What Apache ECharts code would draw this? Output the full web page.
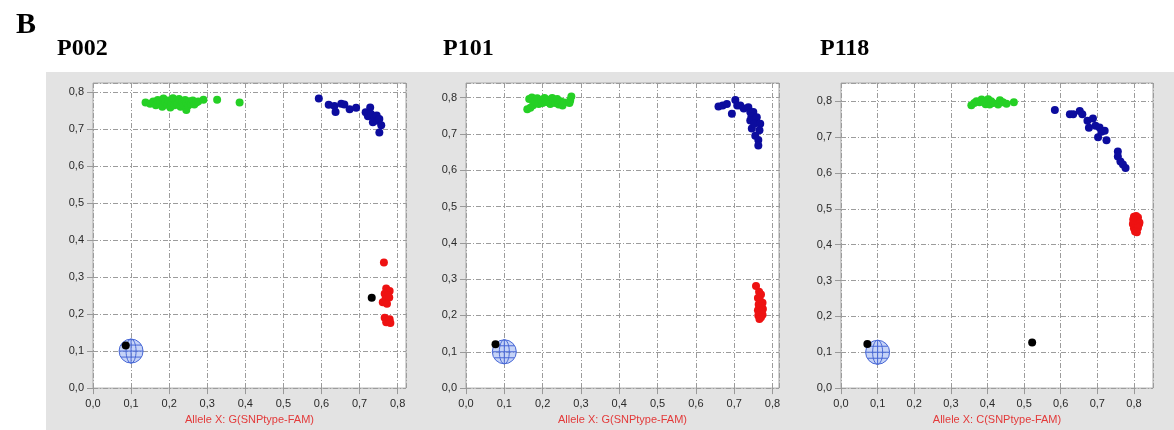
<!DOCTYPE html>
<html>
<head>
<meta charset="utf-8">
<script src="https://cdn.jsdelivr.net/npm/echarts@6/dist/echarts.min.js"></script>
<style>
  html, body { margin: 0; padding: 0; background: #fff; }
  #main { width: 1174px; height: 430px; }
</style>
</head>
<body>
<div id="main"></div>
<script>
// panel titles and axis names
var panelTitles = ['P002', 'P101', 'P118'];
var axisNames = ['Allele X: G(SNPtype-FAM)', 'Allele X: G(SNPtype-FAM)', 'Allele X: C(SNPtype-FAM)'];
var tickValues = [0, 0.1, 0.2, 0.3, 0.4, 0.5, 0.6, 0.7, 0.8];
var globeCenter = [0.1, 0.1];

// P002
var p1Green = [
  [0.138,0.771],[0.150,0.768],[0.158,0.774],[0.165,0.764],[0.170,0.778],[0.176,0.770],[0.182,0.760],
  [0.185,0.782],[0.190,0.772],[0.195,0.765],[0.198,0.777],[0.203,0.758],[0.206,0.770],[0.210,0.783],
  [0.214,0.764],[0.218,0.775],[0.222,0.768],[0.226,0.781],[0.230,0.760],[0.234,0.773],[0.238,0.766],
  [0.242,0.778],[0.246,0.770],[0.245,0.751],[0.250,0.763],[0.254,0.775],[0.258,0.768],[0.262,0.777],
  [0.266,0.766],[0.271,0.771],[0.276,0.774],[0.290,0.779],[0.326,0.779],[0.385,0.771]
];
var p1Blue = [
  [0.593,0.782],[0.619,0.765],[0.634,0.762],[0.637,0.746],[0.652,0.768],[0.660,0.766],[0.674,0.753],
  [0.691,0.757],[0.716,0.745],[0.722,0.734],[0.728,0.758],[0.730,0.740],[0.735,0.718],[0.740,0.730],
  [0.745,0.736],[0.748,0.722],[0.752,0.727],[0.757,0.710],[0.752,0.690]
];
var p1Red = [
  [0.764,0.339],[0.770,0.269],[0.779,0.262],[0.766,0.255],[0.775,0.250],[0.761,0.232],[0.768,0.240],
  [0.778,0.245],[0.772,0.228],[0.766,0.190],[0.775,0.183],[0.770,0.178],[0.779,0.186],[0.781,0.176]
];
var p1Black = [[0.732,0.244],[0.086,0.115]];

// P101
var p2Green = [
  [0.160,0.768],[0.168,0.772],[0.175,0.779],[0.165,0.796],[0.172,0.800],[0.180,0.790],[0.186,0.798],
  [0.190,0.782],[0.196,0.793],[0.200,0.785],[0.205,0.799],[0.210,0.788],[0.215,0.794],[0.220,0.782],
  [0.225,0.799],[0.228,0.790],[0.233,0.785],[0.238,0.796],[0.242,0.781],[0.247,0.790],[0.252,0.778],
  [0.256,0.786],[0.270,0.785],[0.272,0.792],[0.275,0.803]
];
var p2Blue = [
  [0.659,0.775],[0.670,0.778],[0.681,0.782],[0.694,0.755],[0.703,0.793],[0.708,0.778],[0.716,0.778],
  [0.725,0.770],[0.737,0.773],[0.742,0.760],[0.750,0.760],[0.745,0.748],[0.742,0.737],[0.759,0.746],
  [0.746,0.715],[0.752,0.728],[0.768,0.728],[0.766,0.710],[0.755,0.695],[0.763,0.683],[0.763,0.668]
];
var p2Red = [
  [0.757,0.281],[0.765,0.265],[0.770,0.258],[0.762,0.248],[0.768,0.240],[0.774,0.235],[0.764,0.230],
  [0.771,0.226],[0.766,0.220],[0.775,0.218],[0.762,0.214],[0.772,0.214],[0.770,0.210],[0.767,0.205],
  [0.774,0.202],[0.763,0.200],[0.770,0.195],[0.766,0.190]
];
var p2Black = [[0.077,0.121]];

// P118
var p3Green = [
  [0.356,0.789],[0.364,0.795],[0.370,0.800],[0.378,0.797],[0.384,0.805],[0.390,0.798],[0.395,0.792],
  [0.402,0.806],[0.406,0.791],[0.410,0.800],[0.415,0.795],[0.429,0.791],[0.434,0.803],[0.442,0.797],
  [0.452,0.793],[0.472,0.797]
];
var p3Blue = [
  [0.584,0.776],[0.625,0.764],[0.634,0.764],[0.652,0.773],[0.659,0.764],[0.673,0.746],[0.677,0.726],
  [0.688,0.752],[0.695,0.732],[0.706,0.727],[0.702,0.700],[0.711,0.715],[0.720,0.718],[0.725,0.691],
  [0.756,0.660],[0.756,0.646],[0.763,0.632],[0.770,0.624],[0.777,0.614]
];
var p3Red = [
  [0.800,0.478],[0.806,0.480],[0.811,0.476],[0.798,0.470],[0.804,0.468],[0.810,0.466],[0.815,0.462],
  [0.814,0.458],[0.797,0.458],[0.803,0.455],[0.809,0.452],[0.800,0.446],[0.806,0.443],[0.811,0.447],
  [0.803,0.437],[0.808,0.435]
];
var p3Black = [[0.072,0.123],[0.522,0.127]];

var panels = [
  { green: p1Green, blue: p1Blue, red: p1Red, black: p1Black },
  { green: p2Green, blue: p2Blue, red: p2Red, black: p2Black },
  { green: p3Green, blue: p3Blue, red: p3Red, black: p3Black }
];

// layout of the three plots (px)
var grids = [
  { left: 93, top: 83, width: 313, height: 312, xMax: 0.822, yMax: 0.824 },
  { left: 466, top: 83, width: 313, height: 312, xMax: 0.817, yMax: 0.84 },
  { left: 841, top: 83, width: 312, height: 314, xMax: 0.852, yMax: 0.851 }
];
var titleX = [52, 438, 815];

var colors = { green: '#25d025', blue: '#0c0c9e', red: '#ee1212', black: '#000000' };

function tickFmt(v) {
  for (var i = 0; i < tickValues.length; i++) {
    if (Math.abs(v - tickValues[i]) < 1e-6) return v.toFixed(1).replace('.', ',');
  }
  return '';
}

var splitStyle = { color: '#9c9c9c', width: 1, type: [5, 2, 1, 2] };
var labelStyle = { color: '#2a2a2a', fontSize: 11, fontFamily: 'Liberation Sans' };

var option = {
  animation: false,
  backgroundColor: '#ffffff',
  graphic: [{
    type: 'rect', z: -100, silent: true,
    shape: { x: 46, y: 72, width: 1128, height: 358 },
    style: { fill: '#e3e3e3' }
  }],
  title: [{
    text: 'B', left: 11, top: 5,
    textStyle: { fontFamily: 'Liberation Serif', fontWeight: 'bold', fontSize: 30, color: '#000' }
  }],
  grid: [], xAxis: [], yAxis: [], series: []
};

panels.forEach(function(p, i) {
  var g = grids[i];
  option.title.push({
    text: panelTitles[i], left: titleX[i], top: 32,
    textStyle: { fontFamily: 'Liberation Serif', fontWeight: 'bold', fontSize: 24, color: '#000' }
  });
  option.grid.push({
    left: g.left, top: g.top, width: g.width, height: g.height,
    show: true, backgroundColor: '#ffffff', borderColor: '#a9a9a9', borderWidth: 1
  });
  option.xAxis.push({
    gridIndex: i, type: 'value', min: 0, max: g.xMax, interval: 0.1,
    name: axisNames[i], nameLocation: 'middle', nameGap: 20,
    nameTextStyle: { color: '#e33a3a', fontSize: 11, fontFamily: 'Liberation Sans' },
    axisLine: { show: false },
    axisTick: { show: true, length: 6, lineStyle: { color: '#999' } },
    axisLabel: Object.assign({ margin: 10, formatter: tickFmt, showMaxLabel: false }, labelStyle),
    splitLine: { show: true, lineStyle: splitStyle }
  });
  option.yAxis.push({
    gridIndex: i, type: 'value', min: 0, max: g.yMax, interval: 0.1,
    axisLine: { show: false },
    axisTick: { show: true, length: 6, lineStyle: { color: '#999' } },
    axisLabel: Object.assign({ margin: 9, formatter: tickFmt, showMaxLabel: false }, labelStyle),
    splitLine: { show: true, lineStyle: splitStyle }
  });
  ['green', 'blue', 'red', 'black'].forEach(function(k) {
    option.series.push({
      type: 'scatter', xAxisIndex: i, yAxisIndex: i,
      data: p[k], symbolSize: 8, z: 3,
      itemStyle: { color: colors[k], opacity: 1 }
    });
  });
  // no-template-control marker (globe)
  option.series.push({
    type: 'custom', xAxisIndex: i, yAxisIndex: i, z: 2,
    data: [globeCenter],
    renderItem: function(params, api) {
      var c = api.coord([api.value(0), api.value(1)]);
      var r = 12;
      var stroke = '#4767d6';
      return {
        type: 'group',
        children: [
          { type: 'circle', shape: { cx: c[0], cy: c[1], r: r },
            style: { fill: 'rgba(140,168,240,0.5)', stroke: stroke, lineWidth: 1 } },
          { type: 'ellipse', shape: { cx: c[0], cy: c[1], rx: 5, ry: r },
            style: { fill: 'none', stroke: stroke, lineWidth: 1 } },
          { type: 'line', shape: { x1: c[0], y1: c[1] - r, x2: c[0], y2: c[1] + r },
            style: { stroke: stroke, lineWidth: 1 } },
          { type: 'line', shape: { x1: c[0] - r, y1: c[1], x2: c[0] + r, y2: c[1] },
            style: { stroke: stroke, lineWidth: 1 } },
          { type: 'line', shape: { x1: c[0] - 10, y1: c[1] - 6, x2: c[0] + 10, y2: c[1] - 6 },
            style: { stroke: stroke, lineWidth: 1 } },
          { type: 'line', shape: { x1: c[0] - 10, y1: c[1] + 6, x2: c[0] + 10, y2: c[1] + 6 },
            style: { stroke: stroke, lineWidth: 1 } }
        ]
      };
    }
  });
});

var myChart = echarts.init(document.getElementById('main'));
myChart.setOption(option);
</script>
</body>
</html>
